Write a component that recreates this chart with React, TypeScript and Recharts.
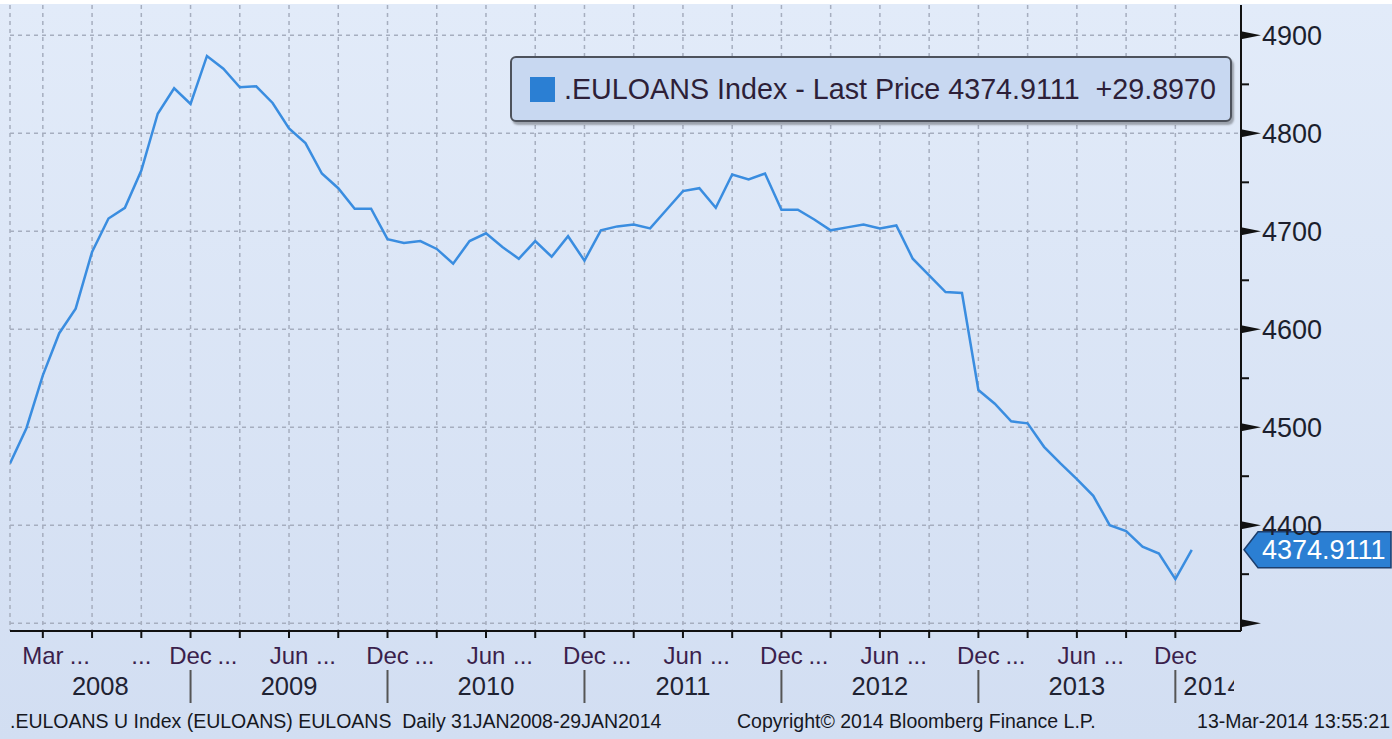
import React from 'react';
import {
  CartesianGrid,
  Legend,
  Line,
  LineChart,
  ReferenceLine,
  XAxis,
  YAxis,
} from 'recharts';

// month-end closes, Jan 2008 .. Jan 2014
const lastPrice = [
  4463, 4499, 4553, 4596, 4621, 4679, 4713, 4724, 4762, 4820, 4846, 4830,
  4879, 4866, 4847, 4848, 4831, 4805, 4790, 4759, 4744, 4723, 4723, 4692,
  4688, 4690, 4682, 4667, 4690, 4698, 4684, 4672, 4690, 4674, 4695, 4670,
  4701, 4705, 4707, 4703, 4722, 4741, 4744, 4724, 4758, 4753, 4759, 4722,
  4722, 4712, 4701, 4704, 4707, 4703, 4706, 4672, 4655, 4638, 4637, 4538,
  4524, 4506, 4504, 4480, 4463, 4447, 4430, 4400, 4394, 4378, 4371, 4345.0141,
  4374.9111,
];

const monthNames = ['Jan', 'Feb', 'Mar', 'Apr', 'May', 'Jun', 'Jul', 'Aug', 'Sep', 'Oct', 'Nov', 'Dec'];
const firstYear = 2008;

// quarter ticks (Mar, Jun, Sep, Dec) and what bloomberg prints under them
const quarterTicks = [2, 5, 8, 11, 14, 17, 20, 23, 26, 29, 32, 35, 38, 41, 44, 47, 50, 53, 56, 59, 62, 65, 68, 71];
const quarterLabels = [
  'Mar ...', '', '...', 'Dec ...', '', 'Jun ...', '', 'Dec ...', '', 'Jun ...', '', 'Dec ...',
  '', 'Jun ...', '', 'Dec ...', '', 'Jun ...', '', 'Dec ...', '', 'Jun ...', '', 'Dec',
];

const years = ['2008', '2009', '2010', '2011', '2012', '2013', '2014'];
const yearBreaks = [11, 23, 35, 47, 59, 71];

const priceTicks = [4300, 4350, 4400, 4450, 4500, 4550, 4600, 4650, 4700, 4750, 4800, 4850, 4900];
const gridPrices = [4300, 4400, 4500, 4600, 4700, 4800, 4900];

const X_MAX = 75;
const FONT = "'Liberation Sans', Arial, sans-serif";
const LINE_BLUE = '#3a8de0';
const TAG_BLUE = '#2b7fd3';

const data = lastPrice.map((price, i) => ({
  idx: i,
  month: `${monthNames[i % 12]} ${firstYear + Math.floor(i / 12)}`,
  price,
}));

const last = lastPrice[lastPrice.length - 1];
const change = last - lastPrice[lastPrice.length - 2];

const yearEdges = [0, ...yearBreaks, X_MAX];
const yearCenters = years.map((_, i) => (yearEdges[i] + yearEdges[i + 1]) / 2);
const yearAxisTicks = [...yearBreaks, ...yearCenters];

const QuarterTick = (props: any) => {
  const { x, y, payload } = props;
  const label = quarterLabels[quarterTicks.indexOf(payload.value)] || '';
  const parts = label.split(' ');
  return (
    <g>
      <line x1={x} x2={x} y1={y} y2={y + 7} stroke="#111" strokeWidth={2} />
      {label === '...' ? (
        <text x={x} y={y + 33} textAnchor="middle" fontSize={24} fontFamily={FONT} fill="#3b1f4c">
          ...
        </text>
      ) : label ? (
        <g>
          <text x={x} y={y + 33} textAnchor="middle" fontSize={24} fontFamily={FONT} fill="#3b1f4c">
            {parts[0]}
          </text>
          {parts[1] && (
            <text x={x + 27} y={y + 33} textAnchor="start" fontSize={24} fontFamily={FONT} fill="#3b1f4c">
              {parts[1]}
            </text>
          )}
        </g>
      ) : null}
    </g>
  );
};

const YearTick = (props: any) => {
  const { x, y, payload } = props;
  const v = payload.value;
  if (yearBreaks.includes(v)) {
    return <line x1={x} x2={x} y1={y - 1} y2={y + 32} stroke="#555" strokeWidth={2} />;
  }
  const idx = yearCenters.indexOf(v);
  const label = years[idx];
  if (idx === years.length - 1) {
    // last year runs off the axis end, clip it like the terminal does
    const start = props.scale ? x : x;
    const left = yearEdges[idx] === yearBreaks[yearBreaks.length - 1] ? x - 25 : x;
    return (
      <svg x={left} y={y} width={1234 - left} height={40} overflow="hidden">
        <text x={0} y={24} textAnchor="start" fontSize={25.5} fontFamily={FONT} fill="#1f2333" letterSpacing={0.6}>
          {label}
        </text>
      </svg>
    );
  }
  return (
    <text x={x} y={y + 24} textAnchor="middle" fontSize={25.5} fontFamily={FONT} fill="#1f2333">
      {label}
    </text>
  );
};

const PriceTick = (props: any) => {
  const { x, y, payload } = props;
  const v = payload.value;
  if (v % 100 !== 0) {
    return <line x1={x} x2={x + 8} y1={y} y2={y} stroke="#111" strokeWidth={2} />;
  }
  return (
    <g>
      <path d={`M${x},${y - 4} L${x + 20},${y} L${x},${y + 4} Z`} fill="#111" />
      {v !== priceTicks[0] && (
        <text x={x + 21} y={y} dy="0.36em" fontSize={27} fontFamily={FONT} fill="#1c1f2e">
          {v}
        </text>
      )}
    </g>
  );
};

const PriceTag = (props: any) => {
  const { viewBox } = props;
  const tip = viewBox.x + viewBox.width + 3;
  const y = viewBox.y;
  return (
    <g>
      <path
        d={`M${tip},${y} L${tip + 14},${y - 18} L1391,${y - 18} L1391,${y + 18} L${tip + 14},${y + 18} Z`}
        fill={TAG_BLUE}
        stroke="#1d3f6e"
        strokeWidth={1.5}
      />
      <text x={tip + 18} y={y} dy="0.36em" fontSize={27} fontFamily={FONT} fill="#fff">
        {last.toFixed(4)}
      </text>
    </g>
  );
};

const LegendBox = () => (
  <div
    style={{
      width: 722,
      height: 66,
      boxSizing: 'border-box',
      border: '2px solid #4d525c',
      borderRadius: 6,
      background: '#c8d8f1',
      boxShadow: '2px 3px 2px rgba(0,0,0,0.3)',
      display: 'flex',
      alignItems: 'center',
      paddingLeft: 18,
      fontFamily: FONT,
    }}
  >
    <span style={{ width: 25, height: 25, background: TAG_BLUE, display: 'inline-block' }} />
    <span style={{ marginLeft: 9, fontSize: 28.7, color: '#2d1f38', whiteSpace: 'pre' }}>
      {`.EULOANS Index - Last Price ${last.toFixed(4)}  +${change.toFixed(4)}`}
    </span>
  </div>
);

const footerStyle: React.CSSProperties = {
  position: 'absolute',
  top: 710,
  fontSize: 19.5,
  fontFamily: FONT,
  color: '#16181f',
  whiteSpace: 'pre',
};

export default function App() {
  return (
    <div
      style={{
        position: 'absolute',
        left: 0,
        top: 0,
        width: 1392,
        height: 739,
        overflow: 'hidden',
        background: 'linear-gradient(to bottom, #ffffff 0px, #ffffff 4px, #e2ebf9 4px, #d2def2 100%)',
      }}
    >
      <LineChart width={1392} height={739} data={data} margin={{ top: 5, right: 0, bottom: 0, left: 10 }}>
        <CartesianGrid
          stroke="#a6aebf"
          strokeWidth={1.5}
          strokeDasharray="4 4"
          horizontalValues={gridPrices}
          verticalValues={[0, ...quarterTicks]}
        />
        <XAxis
          dataKey="idx"
          type="number"
          domain={[0, X_MAX]}
          allowDataOverflow
          ticks={quarterTicks}
          interval={0}
          height={40}
          tickSize={0}
          tickMargin={0}
          tickLine={false}
          axisLine={{ stroke: '#111', strokeWidth: 2 }}
          tick={<QuarterTick />}
        />
        <XAxis
          xAxisId="year"
          dataKey="idx"
          type="number"
          domain={[0, X_MAX]}
          allowDataOverflow
          ticks={yearAxisTicks}
          interval={0}
          height={68}
          tickSize={0}
          tickMargin={0}
          tickLine={false}
          axisLine={false}
          tick={<YearTick />}
        />
        <YAxis
          orientation="right"
          domain={[4292, 4931]}
          allowDataOverflow
          ticks={priceTicks}
          interval={0}
          width={151}
          tickSize={0}
          tickMargin={0}
          tickLine={false}
          axisLine={{ stroke: '#111', strokeWidth: 2 }}
          tick={<PriceTick />}
        />
        <Legend
          layout="horizontal"
          align="center"
          verticalAlign="middle"
          wrapperStyle={{ left: 510, top: 56, width: 722, height: 66 }}
          content={<LegendBox />}
        />
        <Line
          type="linear"
          dataKey="price"
          stroke={LINE_BLUE}
          strokeWidth={2.5}
          dot={false}
          activeDot={false}
          isAnimationActive={false}
        />
        <ReferenceLine y={last} stroke="none" label={<PriceTag />} />
      </LineChart>
      <div style={{ ...footerStyle, left: 10 }}>
        {'.EULOANS U Index (EULOANS) EULOANS  Daily 31JAN2008-29JAN2014'}
      </div>
      <div style={{ ...footerStyle, left: 737 }}>Copyright© 2014 Bloomberg Finance L.P.</div>
      <div style={{ ...footerStyle, right: 2 }}>13-Mar-2014 13:55:21</div>
    </div>
  );
}
